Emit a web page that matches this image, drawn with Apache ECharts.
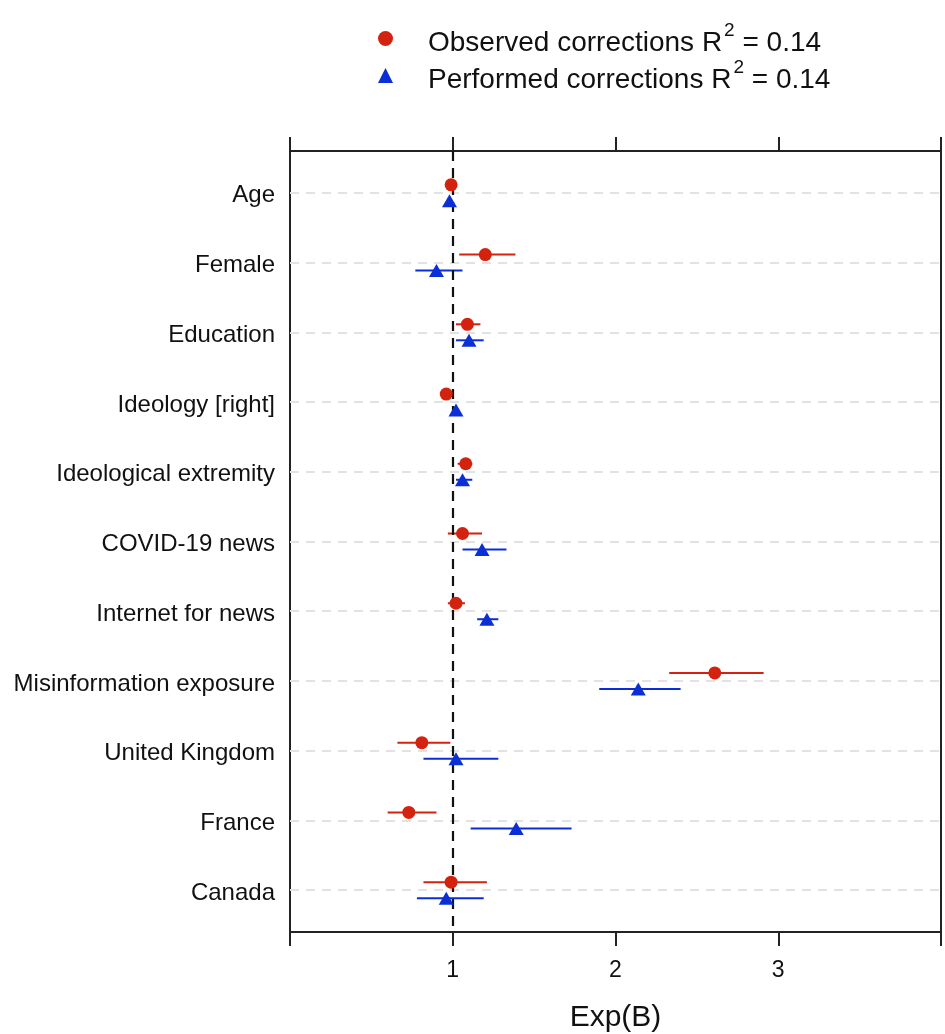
<!DOCTYPE html>
<html>
<head>
<meta charset="utf-8">
<script src="https://cdn.jsdelivr.net/npm/echarts@6/dist/echarts.min.js"></script>
<style>
  html, body { margin: 0; padding: 0; background: #fff; }
  #main { width: 945px; height: 1034px; }
</style>
</head>
<body>
<div id="main"></div>
<script>
// Data
var categories = ['Age', 'Female', 'Education', 'Ideology [right]', 'Ideological extremity',
  'COVID-19 news', 'Internet for news', 'Misinformation exposure', 'United Kingdom', 'France', 'Canada'];
var xTicks = [1, 2, 3];

// Observed corrections: estimate + 95% CI
var obsEst = [0.99, 1.20, 1.09, 0.96, 1.08, 1.06, 1.02, 2.61, 0.81, 0.73, 0.99];
var obsLo  = [0.98, 1.04, 1.02, 0.94, 1.03, 0.97, 0.97, 2.33, 0.66, 0.60, 0.82];
var obsHi  = [1.00, 1.385, 1.17, 0.98, 1.12, 1.18, 1.075, 2.91, 0.985, 0.90, 1.21];

// Performed corrections
var perfEst = [0.98, 0.90, 1.10, 1.02, 1.06, 1.18, 1.21, 2.14, 1.02, 1.39, 0.96];
var perfLo  = [0.97, 0.77, 1.02, 1.00, 1.02, 1.06, 1.15, 1.90, 0.82, 1.11, 0.78];
var perfHi  = [0.99, 1.06, 1.19, 1.04, 1.12, 1.33, 1.28, 2.40, 1.28, 1.73, 1.19];

var red = '#d3230f';
var blue = '#0b2fd4';
var font = "'Liberation Sans', Arial, Helvetica, sans-serif";

function points(est) {
  return est.map(function (v, i) { return [v, i + 1]; });
}
function ranges(lo, hi) {
  return lo.map(function (v, i) { return [i + 1, v, hi[i]]; });
}
function errorBar(color, dy) {
  return function (params, api) {
    var p1 = api.coord([api.value(1), api.value(0)]);
    var p2 = api.coord([api.value(2), api.value(0)]);
    return {
      type: 'line',
      shape: { x1: p1[0], y1: p1[1] + dy, x2: p2[0], y2: p2[1] + dy },
      style: { stroke: color, lineWidth: 2 }
    };
  };
}

var myChart = echarts.init(document.getElementById('main'));

var option = {
  backgroundColor: '#fff',
  animation: false,
  textStyle: { fontFamily: font },
  legend: {
    orient: 'vertical',
    left: 373,
    top: 15,
    itemWidth: 15,
    itemHeight: 15,
    itemGap: 0,
    data: [
      { name: 'Observed corrections', icon: 'circle' },
      { name: 'Performed corrections', icon: 'triangle' }
    ],
    formatter: function (name) {
      return '{a|' + name + ' R}{s|2}{t| = 0.14}';
    },
    textStyle: {
      color: '#111',
      rich: {
        a: { fontSize: 28, fontFamily: font, color: '#111', padding: [9, 0, 0, 30], lineHeight: 28 },
        s: { fontSize: 19, fontFamily: font, color: '#111', padding: [0, 0, 15, 2] },
        t: { fontSize: 28, fontFamily: font, color: '#111', padding: [9, 0, 0, 0], lineHeight: 28 }
      }
    }
  },
  grid: {
    left: 290,
    right: 4,
    top: 151,
    bottom: 102,
    outerBoundsMode: 'none',
    containLabel: false,
    show: true,
    borderColor: '#222',
    borderWidth: 2,
    backgroundColor: 'transparent'
  },
  xAxis: [{
    type: 'value',
    min: 0,
    max: 4,
    interval: 1,
    position: 'bottom',
    name: 'Exp(B)',
    nameLocation: 'middle',
    nameGap: 71,
    nameTextStyle: { fontSize: 30, color: '#111', fontFamily: font },
    axisLine: { show: false },
    axisTick: { show: true, inside: false, length: 14, lineStyle: { color: '#222', width: 2 } },
    axisLabel: {
      margin: 27,
      fontSize: 23,
      color: '#111',
      fontFamily: font,
      formatter: function (v) { return xTicks.indexOf(v) >= 0 ? String(v) : ''; }
    },
    splitLine: { show: false }
  }, {
    type: 'value',
    min: 0,
    max: 4,
    interval: 1,
    position: 'top',
    axisLine: { show: false },
    axisTick: { show: true, inside: false, length: 14, lineStyle: { color: '#222', width: 2 } },
    axisLabel: { show: false },
    splitLine: { show: false }
  }],
  yAxis: {
    type: 'value',
    min: 0.4,
    max: categories.length + 0.6,
    inverse: true,
    axisLine: { show: false },
    axisTick: { show: false },
    splitLine: { show: false },
    axisLabel: {
      customValues: categories.map(function (c, i) { return i + 1; }),
      margin: 15,
      color: '#111',
      formatter: function (v) { return '{l|' + (categories[Math.round(v) - 1] || '') + '}'; },
      rich: {
        l: { fontSize: 24, fontFamily: font, color: '#111', padding: [6, 0, 0, 0] }
      }
    }
  },
  series: [{
    name: 'guides',
    type: 'scatter',
    data: [],
    silent: true,
    markLine: {
      silent: true,
      symbol: 'none',
      label: { show: false },
      lineStyle: { color: '#e2e2e2', type: [9, 7], width: 2 },
      data: categories.map(function (c, i) { return { yAxis: i + 1 }; })
    }
  }, {
    name: 'ref',
    type: 'scatter',
    data: [],
    silent: true,
    z: 3,
    markLine: {
      silent: true,
      symbol: 'none',
      label: { show: false },
      lineStyle: { color: '#111', type: [10, 7], width: 2.2 },
      data: [{ xAxis: 1 }]
    }
  }, {
    name: 'obsCI',
    type: 'custom',
    z: 4,
    renderItem: errorBar(red, -8),
    encode: { x: [1, 2], y: 0 },
    data: ranges(obsLo, obsHi)
  }, {
    name: 'perfCI',
    type: 'custom',
    z: 4,
    renderItem: errorBar(blue, 8),
    encode: { x: [1, 2], y: 0 },
    data: ranges(perfLo, perfHi)
  }, {
    name: 'Observed corrections',
    type: 'scatter',
    z: 5,
    symbol: 'circle',
    symbolSize: 13,
    symbolOffset: [0, -8],
    itemStyle: { color: red, opacity: 1 },
    data: points(obsEst)
  }, {
    name: 'Performed corrections',
    type: 'scatter',
    z: 5,
    symbol: 'triangle',
    symbolSize: [15, 13],
    symbolOffset: [0, 8],
    itemStyle: { color: blue, opacity: 1 },
    data: points(perfEst)
  }]
};

myChart.setOption(option);
</script>
</body>
</html>
